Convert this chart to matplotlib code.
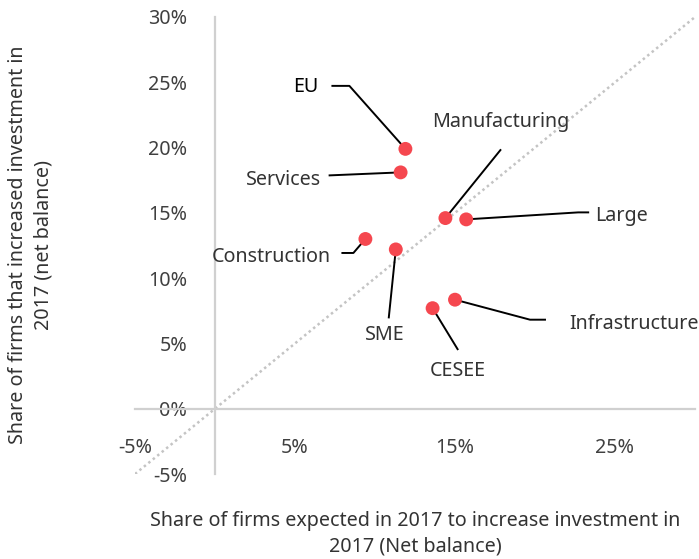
import matplotlib
matplotlib.use("Agg")
import matplotlib.pyplot as plt
from matplotlib.ticker import FuncFormatter
from matplotlib.transforms import IdentityTransform

plt.rcParams['font.family'] = ['Noto Sans', 'DejaVu Sans']

categories = ["EU", "Services", "Manufacturing", "Large", "Construction", "SME", "CESEE", "Infrastructure"]
x_vals = [11.9, 11.6, 14.4, 15.7, 9.4, 11.3, 13.6, 15.0]
y_vals = [19.9, 18.1, 14.6, 14.5, 13.0, 12.2, 7.7, 8.35]
x_ticks = [-5, 5, 15, 25]
y_ticks = [-5, 0, 5, 10, 15, 20, 25, 30]

# leader-line offsets in pixels (dx, dy with y downward) and text offsets
leaders = {
    "EU": ([(-56, -63), (-73, -63)], (-100, -62)),
    "Services": ([(-71, 3)], (-117, 8)),
    "Manufacturing": ([(55, -68)], (55, -96)),
    "Large": ([(112, -7), (122, -7)], (155, -3)),
    "Construction": ([(-12, 14), (-23, 14)], (-94, 18)),
    "SME": ([(-7, 68)], (-11, 86)),
    "CESEE": ([(25, 41)], (25, 63)),
    "Infrastructure": ([(75, 20), (90, 20)], (179, 24)),
}

FS = 14.2
W, H = 699, 559
fig = plt.figure(figsize=(W / 100, H / 100), dpi=100)
ax = fig.add_axes([135 / W, 1 - 474 / H, 560 / W, 457 / H])
ax.set_xlim(-5, 30)
ax.set_ylim(-5, 30)

for s in ["top", "right"]:
    ax.spines[s].set_visible(False)
for s in ["left", "bottom"]:
    ax.spines[s].set_position(("data", 0))
    ax.spines[s].set_color("#d0d0d0")
    ax.spines[s].set_linewidth(1.6)

ax.set_xticks(x_ticks)
ax.set_yticks(y_ticks)
pct = FuncFormatter(lambda v, p: f"{v:.0f}%")
ax.xaxis.set_major_formatter(pct)
ax.yaxis.set_major_formatter(pct)
ax.tick_params(axis="x", length=0, pad=21, labelsize=FS, labelcolor="#404040")
ax.tick_params(axis="y", length=0, pad=20, labelsize=FS, labelcolor="#404040")

ax.plot([-5, 30], [-5, 30], linestyle=(0, (1, 1.3)), color="#c4c4c4", lw=1.8, zorder=1)
ax.scatter(x_vals, y_vals, s=100, color="#f5474f", zorder=3, edgecolors="none")

fig.canvas.draw()
for cat, xv, yv in zip(categories, x_vals, y_vals):
    px, py = ax.transData.transform((xv, yv))
    verts, toff = leaders[cat]
    xs = [px] + [px + dx for dx, dy in verts]
    ys = [py] + [py - dy for dx, dy in verts]
    ax.plot(xs, ys, color="black", lw=1.4, transform=IdentityTransform(), zorder=2, clip_on=False)
    ax.text(px + toff[0], py - toff[1], cat, transform=IdentityTransform(),
            ha="center", va="center", fontsize=FS,
            color="black" if cat == "EU" else "#333333")

fig.text(415 / W, 1 - 534 / H,
         "Share of firms expected in 2017 to increase investment in\n2017 (Net balance)",
         ha="center", va="center", fontsize=FS, color="#333333", linespacing=1.35)
fig.text(31 / W, 1 - 245 / H,
         "Share of firms that increased investment in\n2017 (net balance)",
         ha="center", va="center", rotation=90, fontsize=FS, color="#333333", linespacing=1.35)

fig.savefig("out.png", dpi=100)
